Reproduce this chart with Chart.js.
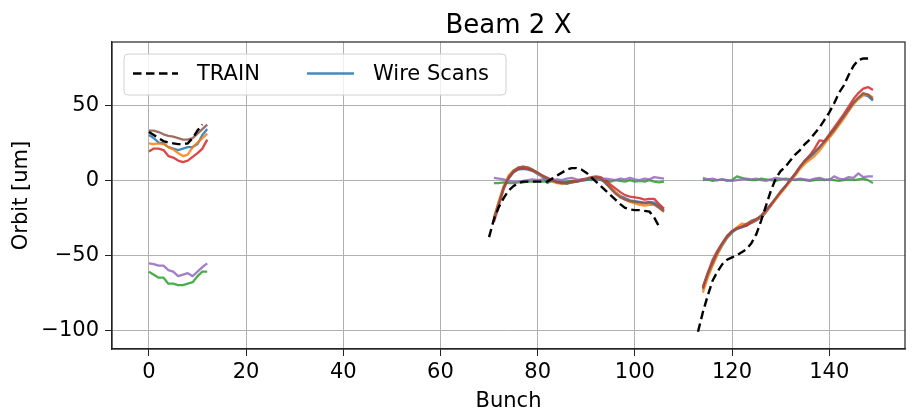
<!DOCTYPE html>
<html>
<head>
<meta charset="utf-8">
<script src="https://cdn.jsdelivr.net/npm/chart.js@4.4.1/dist/chart.umd.min.js"></script>
<style>
  html, body { margin: 0; padding: 0; background: #ffffff; }
  #wrap { width: 914px; height: 412px; }
</style>
</head>
<body>
<div id="wrap"><canvas id="c" width="914" height="412"></canvas></div>
<script>
// Bunch numbers of the three trains
const bunchesA = [0, 1, 2, 3, 4, 5, 6, 7, 8, 9, 10, 11, 12];
const bunchesB = [71, 72, 73, 74, 75, 76, 77, 78, 79, 80, 81, 82, 83, 84, 85, 86, 87, 88,
                  89, 90, 91, 92, 93, 94, 95, 96, 97, 98, 99, 100, 101, 102, 103, 104, 105, 106];
const bunchesC = [114, 115, 116, 117, 118, 119, 120, 121, 122, 123, 124, 125, 126, 127, 128, 129, 130, 131,
                  132, 133, 134, 135, 136, 137, 138, 139, 140, 141, 142, 143, 144, 145, 146, 147, 148, 149];

// TRAIN model bunches and orbit [um]
const trainBunchesA = [0, 1, 2, 3, 4, 5, 6, 7, 8, 9, 10, 11];
const trainBunchesB = [70, 71, 72, 73, 74, 75, 76, 77, 78, 79, 80, 81, 82, 83, 84, 85, 86, 87,
                       88, 89, 90, 91, 92, 93, 94, 95, 96, 97, 98, 99, 100, 101, 102, 103, 104, 105];
const trainBunchesC = [113, 114, 115, 116, 117, 118, 119, 120, 121, 122, 123, 124, 125, 126, 127, 128, 129, 130,
                       131, 132, 133, 134, 135, 136, 137, 138, 139, 140, 141, 142, 143, 144, 145, 146, 147, 148];
const trainA = [32, 30, 28, 26, 25, 24.5, 24, 24, 24.5, 28, 33, 37];
const trainB = [-38, -26, -18, -12, -7, -4, -2, -1, -1, -1, -1, -1, -1, 1, 3, 5, 7, 8,
                8, 7, 5, 2, -1, -4, -7, -10, -13, -16, -18.5, -19.5, -20, -20, -20.5, -21, -25, -31];
const trainC = [-101, -88, -77, -67, -61, -56, -53, -51.5, -50, -48, -46, -42, -36, -27, -17, -7, 1, 6,
                9, 13, 17, 20, 24, 27, 31, 35, 40, 45, 51, 58, 63, 70, 76, 80, 81, 81];

// Wire scan orbits [um], one scan per colour, three trains each
const scan1A = [30, 28, 25, 24.5, 22, 21, 20, 21, 22, 22, 24, 30, 34];
const scan1B = [-26, -15, -5, 1, 5, 7, 7.5, 7, 6, 4, 2, -2, 0, -1, -2, -2.5, -1.5, -1,
                -0.5, 0, 1, 1.5, 0.5, -2, -5, -8, -10.5, -12, -13.5, -14, -14.5, -15, -14.5, -15, -17.5, -20];
const scan1C = [-73, -64, -56, -49, -43.5, -38.5, -35, -32.5, -31.5, -30, -28.5, -27, -25, -21.5, -17, -12.5, -8, -4,
                0, 4, 8.5, 12, 15, 18, 21.5, 25.5, 29, 33, 37.5, 42, 46.5, 51.5, 54.5, 57, 56, 53];

const scan2A = [24.5, 24, 24.5, 24, 22, 20.5, 18, 16, 17, 22, 25, 28, 31];
const scan2B = [-25, -14, -4, 3, 6.5, 8, 9, 8, 6.5, 4.5, 2.5, 0.5, -1, -2, -2.5, -2, -1.5, -1,
                0, 0.5, 1, 2, 1, -1.5, -4.5, -8, -11, -13, -14.5, -15.5, -16.5, -17, -16.5, -16.5, -18.5, -21];
const scan2C = [-75, -65, -57, -49.5, -43, -38, -34, -31.5, -29, -29.5, -28, -26.5, -24.5, -21, -17, -13, -9, -5,
                -1, 3, 7.5, 11, 13.5, 16, 19.5, 24, 28, 32, 36.5, 41, 46, 50.5, 54, 56.5, 57, 55];

const scan3A = [-61, -63, -65, -65, -69, -69, -70, -70, -69, -68, -64, -61, -61];
const scan3B = [-2, -2, -1.5, -2, -2, -1.5, -1.5, -1, -1, -0.5, -1, -1, -0.5, -1, -1.5, -1, -0.5, -1,
                0, 0.5, 0, 1, 0, -0.5, -1, 0, -0.5, -1, 0, -1, -0.5, -1, 0, -1, -1.5, -1];
const scan3C = [0, 0.5, -0.5, 0, 0.5, -0.5, 0, 2.5, 1.5, 0.5, 0, 0, 1, 0.5, 0, -0.5, 0.5, 1,
                0.5, 0, 0.5, 0, -0.5, 0, 0.5, 0, 0.5, 0, -0.5, 0, 0.5, 0, 0.5, 1, 0, -2];

const scan4A = [19, 21, 21, 20, 16, 15, 13, 12, 13, 15.5, 18, 21, 27];
const scan4B = [-28, -17, -6, 1, 5.5, 7.5, 8, 7.5, 6.5, 5, 3, 1.5, 0, -1, -1.5, -1.5, -1, -0.5,
                0.5, 1, 2, 2.5, 2, 0, -3, -5.5, -8, -10, -11, -11.5, -12, -13, -12.5, -12.5, -16, -19];
const scan4C = [-72, -62, -53, -47, -42, -37.5, -34, -32, -31, -30.5, -28, -26, -24, -20, -16.5, -12, -8, -4,
                0, 4, 9, 13, 16.5, 21, 26.5, 26, 30.5, 35, 39.5, 44, 49, 54, 58, 61, 62, 60];

const scan5A = [-55.5, -56, -57, -57, -60, -61, -64, -63, -62, -64, -61, -58, -55.5];
const scan5B = [1.5, 1, 0.5, -0.5, -1, -1, -0.5, 0, 0.5, 0, 0.5, 1, 0, 0.5, 0, 1, 1.5, 0.5,
                0, 1, 0.5, 0, 0.5, 1, 0.5, 0, 1, 0.5, 1.5, 0.5, 0, 1, 0.5, 2, 1.5, 1];
const scan5C = [1.5, 0.5, 1, 0, 0.5, 0, -0.5, 0, 0.5, 1, 0.5, 1, 0, -0.5, 0.5, 1.5, 1, 0.5,
                0, 0.5, 1, 0.5, 0, 1, 1.5, 0.5, 0, 2.5, 1, 0.5, 2, 1.5, 4.5, 2, 2.5, 2.5];

const scan6A = [33, 33, 32, 30.5, 29.5, 29, 28, 27, 27, 28, 31, 34, 37];
const scan6B = [-25.5, -15.5, -5, 2, 6, 8.5, 9, 8.5, 7, 5, 3, 1, 0, -1.5, -2, -2, -1.5, -1,
                0, 0.5, 1.5, 2, 1, -2, -5.5, -9, -11.5, -13, -14, -14.5, -15, -15.5, -15, -16, -18.5, -21];
const scan6C = [-71, -62, -55, -48, -42, -37, -34, -32.5, -31, -29, -27, -26, -23.5, -20, -16, -12, -7.5, -4,
                0.5, 4.5, 9, 13, 16, 19, 22, 25.5, 29.5, 33.5, 38, 42.5, 47, 51.5, 55, 58, 57, 54];

// Axis ticks
const xTicks = [0, 20, 40, 60, 80, 100, 120, 140];
const yTicks = [-100, -50, 0, 50];

// Join the three trains into one line with gaps between them
function trains(segments) {
  const pts = [];
  segments.forEach(([xs, ys], i) => {
    if (i > 0) pts.push({ x: xs[0] - 0.5, y: null });
    xs.forEach((x, k) => pts.push({ x: x, y: ys[k] }));
  });
  return pts;
}

const FONT = '"DejaVu Sans", sans-serif';
const scanColors = ['rgba(31,119,180,0.85)', 'rgba(255,127,14,0.85)', 'rgba(44,160,44,0.85)',
                    'rgba(214,39,40,0.85)', 'rgba(148,103,189,0.85)', 'rgba(140,86,75,0.85)'];
const scans = [
  [scan1A, scan1B, scan1C], [scan2A, scan2B, scan2C], [scan3A, scan3B, scan3C],
  [scan4A, scan4B, scan4C], [scan5A, scan5B, scan5C], [scan6A, scan6B, scan6C]
];

const datasets = scans.map((s, i) => ({
  label: i === 0 ? 'Wire Scans' : '',
  data: trains([[bunchesA, s[0]], [bunchesB, s[1]], [bunchesC, s[2]]]),
  borderColor: scanColors[i],
  borderWidth: 2.3,
  pointRadius: 0,
  tension: 0,
  spanGaps: false,
  borderJoinStyle: 'round',
  order: 7 - i
}));
datasets.unshift({
  label: 'TRAIN',
  data: trains([[trainBunchesA, trainA], [trainBunchesB, trainB], [trainBunchesC, trainC]]),
  borderColor: '#000000',
  borderWidth: 2.4,
  borderDash: [8.5, 4.5],
  pointRadius: 0,
  tension: 0,
  spanGaps: false,
  order: 0
});

// Title centred over the plotting area, frame on all four sides
const framePlugin = {
  id: 'frame',
  afterDraw(chart) {
    const { ctx, chartArea: a } = chart;
    ctx.save();
    ctx.strokeStyle = '#222222';
    ctx.lineWidth = 1.2;
    ctx.strokeRect(a.left, a.top, a.right - a.left, a.bottom - a.top);
    ctx.fillStyle = '#000000';
    ctx.font = '26px ' + FONT;
    ctx.textAlign = 'center';
    ctx.textBaseline = 'alphabetic';
    ctx.fillText('Beam 2 X', (a.left + a.right) / 2, a.top - 9);
    ctx.restore();
  }
};

// Legend box in the upper left corner of the plot
const legendPlugin = {
  id: 'innerLegend',
  afterDraw(chart) {
    const { ctx, chartArea: a } = chart;
    const x0 = a.left + 12, y0 = a.top + 12, w = 382, h = 41, r = 4;
    ctx.save();
    ctx.beginPath();
    ctx.roundRect(x0, y0, w, h, r);
    ctx.fillStyle = 'rgba(255,255,255,0.8)';
    ctx.fill();
    ctx.strokeStyle = '#d0d0d0';
    ctx.lineWidth = 1;
    ctx.stroke();

    const yMid = y0 + 19.5;
    ctx.lineWidth = 2.4;
    ctx.strokeStyle = '#000000';
    ctx.setLineDash([8.5, 4.5]);
    ctx.beginPath();
    ctx.moveTo(x0 + 9, yMid);
    ctx.lineTo(x0 + 54, yMid);
    ctx.stroke();
    ctx.setLineDash([]);

    ctx.lineWidth = 2.3;
    ctx.strokeStyle = scanColors[0];
    ctx.beginPath();
    ctx.moveTo(x0 + 183, yMid);
    ctx.lineTo(x0 + 230, yMid);
    ctx.stroke();

    ctx.fillStyle = '#000000';
    ctx.font = '21px ' + FONT;
    ctx.textBaseline = 'middle';
    ctx.textAlign = 'left';
    ctx.fillText('TRAIN', x0 + 73, yMid + 1);
    ctx.fillText('Wire Scans', x0 + 249, yMid + 1);
    ctx.restore();
  }
};

const minus = v => (v < 0 ? '\u2212' + Math.abs(v) : String(v));

new Chart(document.getElementById('c'), {
  type: 'line',
  data: { datasets: datasets },
  options: {
    responsive: false,
    devicePixelRatio: 1,
    animation: false,
    layout: { padding: { left: 0, right: 9, top: 42, bottom: 0 } },
    plugins: {
      legend: { display: false },
      tooltip: { enabled: false },
      title: { display: false }
    },
    scales: {
      x: {
        type: 'linear',
        min: -7.6,
        max: 155.6,
        afterBuildTicks: s => { s.ticks = xTicks.map(v => ({ value: v })); },
        afterFit: s => { s.height = 63; },
        ticks: {
          color: '#000000',
          font: { family: FONT, size: 21 },
          padding: 4,
          maxRotation: 0,
          autoSkip: false
        },
        grid: { color: '#b0b0b0', lineWidth: 1, tickColor: '#222222', tickLength: 7 },
        border: { display: true, color: '#222222', width: 1.2 },
        title: {
          display: true,
          text: 'Bunch',
          color: '#000000',
          font: { family: FONT, size: 21 },
          padding: { top: 0, bottom: -2 }
        }
      },
      y: {
        type: 'linear',
        min: -112.5,
        max: 92,
        afterBuildTicks: s => { s.ticks = yTicks.map(v => ({ value: v })); },
        afterFit: s => { s.width = 112; },
        ticks: {
          color: '#000000',
          font: { family: FONT, size: 21 },
          padding: 6,
          callback: v => minus(v)
        },
        grid: { color: '#b0b0b0', lineWidth: 1, tickColor: '#222222', tickLength: 7 },
        border: { display: true, color: '#222222', width: 1.2 },
        title: {
          display: true,
          text: 'Orbit [um]',
          color: '#000000',
          font: { family: FONT, size: 21 },
          padding: { top: 9, bottom: 0 }
        }
      }
    }
  },
  plugins: [framePlugin, legendPlugin]
});
</script>
</body>
</html>
